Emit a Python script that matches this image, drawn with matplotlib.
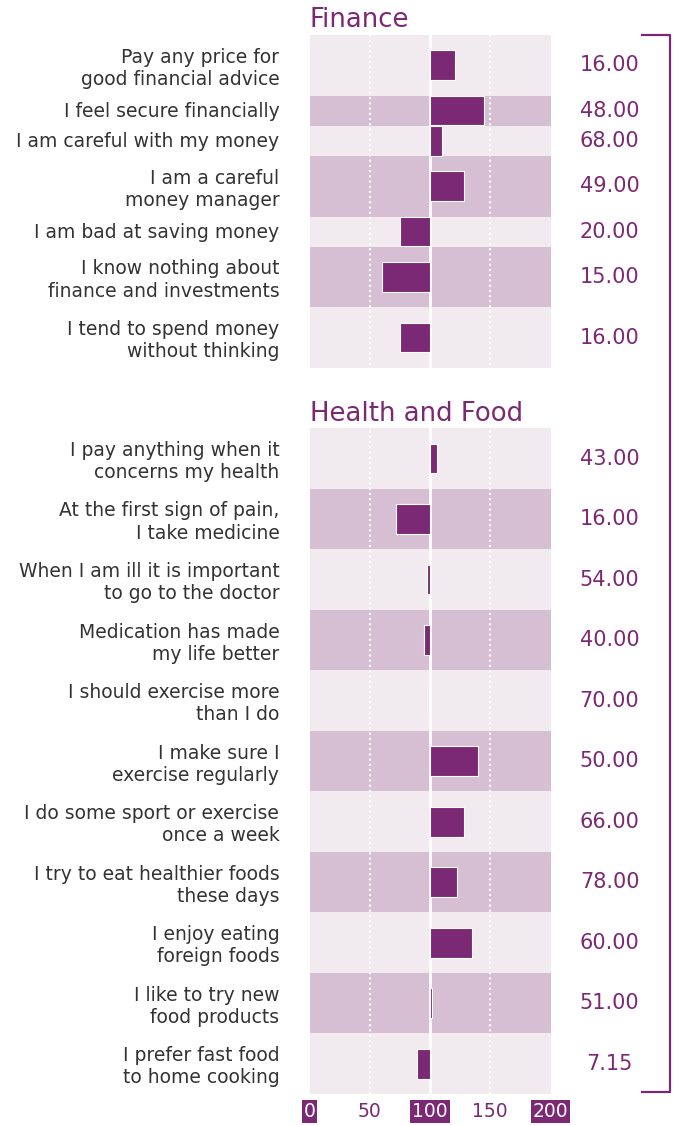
import matplotlib.pyplot as plt
from matplotlib.lines import Line2D

plt.rcParams['font.family'] = ['DejaVu Sans']

# Index values (100 = average) and share of respondents per statement
finance_labels = [
    "Pay any price for\ngood financial advice",
    "I feel secure financially",
    "I am careful with my money",
    "I am a careful\nmoney manager",
    "I am bad at saving money",
    "I know nothing about\nfinance and investments",
    "I tend to spend money\nwithout thinking",
]
finance_index = [121, 145, 110, 128, 75, 60, 75]
finance_share = [16.00, 48.00, 68.00, 49.00, 20.00, 15.00, 16.00]

health_labels = [
    "I pay anything when it\nconcerns my health",
    "At the first sign of pain,\nI take medicine",
    "When I am ill it is important\nto go to the doctor",
    "Medication has made\nmy life better",
    "I should exercise more\nthan I do",
    "I make sure I\nexercise regularly",
    "I do some sport or exercise\nonce a week",
    "I try to eat healthier foods\nthese days",
    "I enjoy eating\nforeign foods",
    "I like to try new\nfood products",
    "I prefer fast food\nto home cooking",
]
health_index = [106, 72, 97.5, 95, 99, 140, 128.5, 122, 134.5, 102, 89]
health_share = [43.00, 16.00, 54.00, 40.00, 70.00, 50.00, 66.00, 78.00, 60.00, 51.00, 7.15]

sections = [
    ("Finance", finance_labels, finance_index, finance_share),
    ("Health and Food", health_labels, health_index, health_share),
]
tick_values = [0, 50, 100, 150, 200]

purple = "#7b2974"
band_light = "#f1eaef"
band_dark = "#d7bfd3"
text_grey = "#333333"

W, H = 676, 1125
fig = plt.figure(figsize=(W / 100, H / 100), dpi=100)
# plot area in pixels: x 309.5..550.5, y 35..1094
ax = fig.add_axes([309.5 / W, 1 - 1094 / H, 241 / W, 1059 / H])

gap = 2  # empty rows between the two sections
y = 0
for s, (title, labels, index, share) in enumerate(sections):
    ax.text(0, y - 0.25, title, fontsize=18.7, color=purple,
            ha="left", va="baseline")
    for i, (lab, val, pct) in enumerate(zip(labels, index, share)):
        h = lab.count("\n") + 1  # two-line labels get taller rows
        ax.axhspan(y, y + h, xmin=0, xmax=1,
                   color=band_light if i % 2 == 0 else band_dark, lw=0, zorder=0)
        mid = y + h / 2
        ax.barh(mid, val - 100, left=100, height=0.98, color=purple,
                edgecolor="white", linewidth=0.8, zorder=3)
        ax.text(-25, mid + (0.1 if h == 2 else 0.03), lab, ha="right",
                va="center", fontsize=13.5, color=text_grey, linespacing=1.22,
                clip_on=False)
        ax.text(249, mid, f"{pct:.2f}", ha="center", va="center",
                fontsize=15, color=purple, clip_on=False)
        y += h
    y += gap

total_rows = y - gap

# reference lines: solid at 100, dotted at 50 and 150
ax.axvline(100, color="white", lw=2, zorder=2)
for v in (50, 150):
    ax.axvline(v, color="white", lw=1.5, ls=(0, (1, 1.5)), zorder=2)

ax.set_xlim(0, 200)
ax.set_ylim(total_rows, 0)
ax.set_yticks([])
ax.set_xticks(tick_values)
ax.set_xticklabels([str(v) for v in tick_values])
ax.tick_params(axis="x", length=0, pad=6, labelsize=13.5, labelcolor=purple)
for v, lbl in zip(tick_values, ax.get_xticklabels()):
    if v % 100 == 0:
        lbl.set_color("white")
        lbl.set_bbox(dict(boxstyle="square,pad=0.1", fc=purple, ec="none"))
for sp in ax.spines.values():
    sp.set_visible(False)
ax.patch.set_alpha(0)

# bracket along the right side
bx = [642 / W, 670 / W, 670 / W, 642 / W]
by = [1 - 34.5 / H, 1 - 34.5 / H, 1 - 1092 / H, 1 - 1092 / H]
fig.add_artist(Line2D(bx, by, color=purple, lw=1.6, transform=fig.transFigure))

fig.savefig("out.png", dpi=100)
